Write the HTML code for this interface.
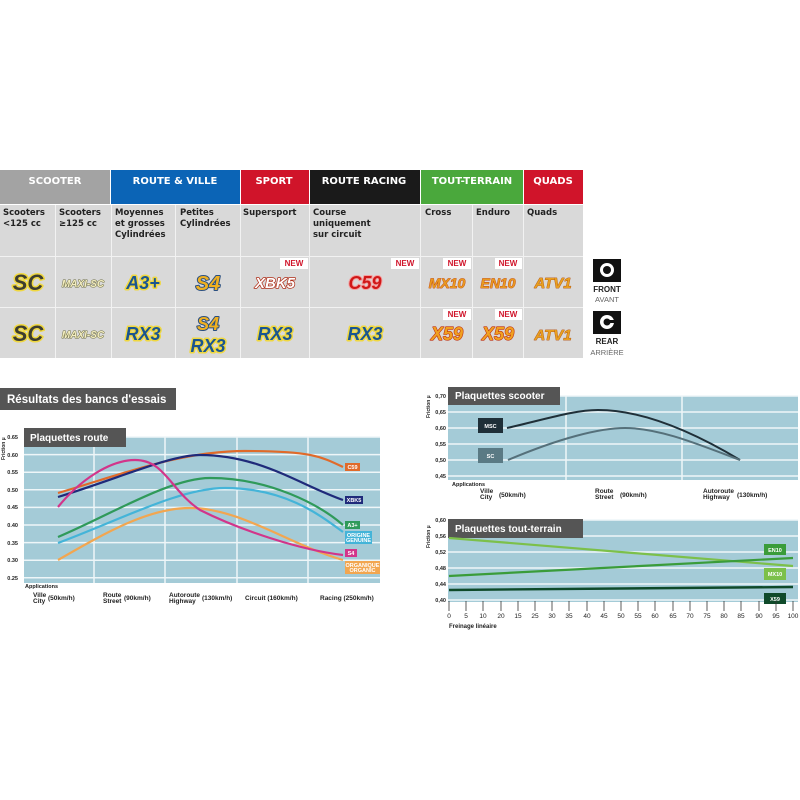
<!DOCTYPE html>
<html><head><meta charset="utf-8"><style>
html,body{margin:0;padding:0;background:#fff;width:800px;height:800px;overflow:hidden}
svg{display:block}
text{font-family:"Liberation Sans",sans-serif}
.h{font-family:"DejaVu Sans",sans-serif;font-weight:bold;font-size:10px;fill:#fff;text-anchor:middle}
.s{font-family:"DejaVu Sans",sans-serif;font-weight:bold;font-size:8.5px;fill:#222}
.lg{font-weight:900;font-style:italic;paint-order:stroke;stroke-linejoin:round;text-anchor:middle}
.new{font-size:8px;fill:#d0142a;font-weight:bold;text-anchor:middle}
.yl{font-size:5.5px;font-weight:bold;fill:#222;text-anchor:end}
.xl{font-size:6.5px;font-weight:bold;fill:#222}
.lb{font-size:5.5px;font-weight:bold;fill:#fff;text-anchor:middle}
</style></head><body>
<svg width="800" height="800" viewBox="0 0 800 800" xmlns="http://www.w3.org/2000/svg">
<rect x="0" y="170" width="110" height="34" fill="#a3a3a3"/>
<rect x="111" y="170" width="129" height="34" fill="#0b64b6"/>
<rect x="241" y="170" width="68" height="34" fill="#d0142a"/>
<rect x="310" y="170" width="110" height="34" fill="#1a1a1a"/>
<rect x="421" y="170" width="102" height="34" fill="#4aa83c"/>
<rect x="524" y="170" width="59" height="34" fill="#d0142a"/>
<text class="h" x="55" y="184">SCOOTER</text>
<text class="h" x="175" y="184">ROUTE &amp; VILLE</text>
<text class="h" x="274" y="184">SPORT</text>
<text class="h" x="364" y="184">ROUTE RACING</text>
<text class="h" x="472" y="184">TOUT-TERRAIN</text>
<text class="h" x="553" y="184">QUADS</text>
<rect x="0" y="205" width="583" height="153" fill="#d9d9d9"/>
<g stroke="#f2f2f2" stroke-width="1">
<line x1="55.5" y1="205" x2="55.5" y2="358"/><line x1="111.5" y1="205" x2="111.5" y2="358"/>
<line x1="175.5" y1="205" x2="175.5" y2="358"/><line x1="240.5" y1="205" x2="240.5" y2="358"/>
<line x1="309.5" y1="205" x2="309.5" y2="358"/><line x1="420.5" y1="205" x2="420.5" y2="358"/>
<line x1="472.5" y1="205" x2="472.5" y2="358"/><line x1="523.5" y1="205" x2="523.5" y2="358"/>
<line x1="0" y1="256.5" x2="583" y2="256.5"/><line x1="0" y1="307.5" x2="583" y2="307.5"/>
</g>
<text class="s" x="3" y="215">Scooters</text><text class="s" x="3" y="226">&lt;125 cc</text>
<text class="s" x="59" y="215">Scooters</text><text class="s" x="59" y="226">≥125 cc</text>
<text class="s" x="115" y="215">Moyennes</text><text class="s" x="115" y="226">et grosses</text><text class="s" x="115" y="237">Cylindrées</text>
<text class="s" x="180" y="215">Petites</text><text class="s" x="180" y="226">Cylindrées</text>
<text class="s" x="243" y="215">Supersport</text>
<text class="s" x="313" y="215">Course</text><text class="s" x="313" y="226">uniquement</text><text class="s" x="313" y="237">sur circuit</text>
<text class="s" x="425" y="215">Cross</text><text class="s" x="476" y="215">Enduro</text><text class="s" x="527" y="215">Quads</text>
<g fill="#fff"><rect x="280" y="258" width="28" height="11"/><rect x="391" y="258" width="28" height="11"/><rect x="443" y="258" width="28" height="11"/><rect x="495" y="258" width="27" height="11"/><rect x="443" y="309" width="28" height="11"/><rect x="495" y="309" width="27" height="11"/></g>
<text class="new" x="294" y="266">NEW</text><text class="new" x="405" y="266">NEW</text><text class="new" x="457" y="266">NEW</text><text class="new" x="508" y="266">NEW</text><text class="new" x="457" y="317">NEW</text><text class="new" x="508" y="317">NEW</text>
<g class="lg">
<text x="28" y="290" font-size="22" fill="#3d3d30" stroke="#f0d840" stroke-width="3">SC</text>
<text x="28" y="341" font-size="22" fill="#3d3d30" stroke="#f0d840" stroke-width="3">SC</text>
<text x="83" y="287" font-size="10" fill="#f4eec0" stroke="#6a6a40" stroke-width="1">MAXI-SC</text>
<text x="83" y="338" font-size="10" fill="#f4eec0" stroke="#6a6a40" stroke-width="1">MAXI-SC</text>
<text x="143" y="289" font-size="18" fill="#1a5590" stroke="#f0d840" stroke-width="3">A3+</text>
<text x="143" y="340" font-size="18" fill="#1a5590" stroke="#f0d840" stroke-width="3">RX3</text>
<text x="208" y="290" font-size="20" fill="#f0b020" stroke="#2a4f80" stroke-width="2">S4</text>
<text x="208" y="330" font-size="18" fill="#f0b020" stroke="#2a4f80" stroke-width="2">S4</text>
<text x="208" y="352" font-size="18" fill="#1a5590" stroke="#f0d840" stroke-width="3">RX3</text>
<text x="275" y="288" font-size="15" fill="#fff" stroke="#b0301a" stroke-width="1.5">XBK5</text>
<text x="275" y="340" font-size="18" fill="#1a5590" stroke="#f0d840" stroke-width="3">RX3</text>
<text x="365" y="289" font-size="18" fill="#d01818" stroke="#f4a0a0" stroke-width="2">C59</text>
<text x="365" y="340" font-size="18" fill="#1a5590" stroke="#f0d840" stroke-width="3">RX3</text>
<text x="447" y="288" font-size="14" fill="#e89a20" stroke="#c04010" stroke-width="0.8">MX10</text>
<text x="498" y="288" font-size="14" fill="#e89a20" stroke="#c04010" stroke-width="0.8">EN10</text>
<text x="447" y="340" font-size="18" fill="#f0a020" stroke="#c03010" stroke-width="1.2">X59</text>
<text x="498" y="340" font-size="18" fill="#f0a020" stroke="#c03010" stroke-width="1.2">X59</text>
<text x="553" y="288" font-size="15" fill="#e8a020" stroke="#b05010" stroke-width="0.8">ATV1</text>
<text x="553" y="340" font-size="15" fill="#e8a020" stroke="#b05010" stroke-width="0.8">ATV1</text>
</g>
<rect x="593" y="259" width="28" height="23" fill="#111"/><circle cx="607" cy="270" r="7" fill="#fff"/><circle cx="607" cy="270" r="4" fill="#111"/>
<text x="607" y="292" font-size="8" font-weight="bold" text-anchor="middle" fill="#222">FRONT</text>
<text x="607" y="302" font-size="7.5" text-anchor="middle" fill="#666">AVANT</text>
<rect x="593" y="311" width="28" height="23" fill="#111"/><circle cx="607" cy="322" r="7" fill="#fff"/><circle cx="607" cy="322" r="3.5" fill="#111"/><rect x="607" y="320" width="9" height="3" fill="#111"/>
<text x="607" y="344" font-size="8" font-weight="bold" text-anchor="middle" fill="#222">REAR</text>
<text x="607" y="355" font-size="7.5" text-anchor="middle" fill="#666">ARRIÈRE</text>

<rect x="0" y="388" width="176" height="22" fill="#555"/>
<text x="7" y="403" font-size="11.5" font-weight="bold" fill="#fff">Résultats des bancs d'essais</text>
<rect x="24" y="437" width="356" height="146" fill="#a4cbd7"/>
<g stroke="#eef6f8" stroke-width="1.5">
<line x1="24" y1="437" x2="380" y2="437"/><line x1="24" y1="454.6" x2="380" y2="454.6"/><line x1="24" y1="472.2" x2="380" y2="472.2"/><line x1="24" y1="489.8" x2="380" y2="489.8"/><line x1="24" y1="507.4" x2="380" y2="507.4"/><line x1="24" y1="525" x2="380" y2="525"/><line x1="24" y1="542.6" x2="380" y2="542.6"/><line x1="24" y1="560.2" x2="380" y2="560.2"/><line x1="24" y1="577.8" x2="380" y2="577.8"/>
<line x1="94" y1="437" x2="94" y2="583"/><line x1="165" y1="437" x2="165" y2="583"/><line x1="237" y1="437" x2="237" y2="583"/><line x1="308" y1="437" x2="308" y2="583"/>
</g>
<rect x="24" y="428" width="102" height="19" fill="#555"/>
<text x="30" y="441" font-size="10" font-weight="bold" fill="#fff">Plaquettes route</text>
<text transform="translate(5,460) rotate(-90)" font-size="5" font-weight="bold" fill="#222">Friction µ</text>
<g class="yl"><text x="18" y="439">0.65</text><text x="18" y="457">0.60</text><text x="18" y="474">0.55</text><text x="18" y="492">0.50</text><text x="18" y="509">0.45</text><text x="18" y="527">0.40</text><text x="18" y="545">0.35</text><text x="18" y="562">0.30</text><text x="18" y="580">0.25</text></g>
<g fill="none" stroke-width="2.2">
<path d="M58 493 C120 475,180 451,245 451 S320 456,343 467" stroke="#e06a2a"/>
<path d="M58 497 C120 478,170 455,200 455 C260 455,300 485,343 500" stroke="#1f2a7a"/>
<path d="M58 543 C120 520,180 488,225 488 C285 488,320 515,343 532" stroke="#44b4d8"/>
<path d="M58 537 C110 515,170 478,210 478 C270 478,320 505,343 525" stroke="#2f9a5a"/>
<path d="M58 560 C110 530,150 508,190 508 C240 508,290 545,343 560" stroke="#f2a650"/>
<path d="M58 507 C80 480,110 460,135 460 C165 460,170 490,200 510 C240 530,300 550,343 555" stroke="#d2358a"/>
</g>
<rect x="345" y="463" width="15" height="8" fill="#e06a2a"/><text class="lb" x="352.5" y="469">C59</text>
<rect x="345" y="496" width="18" height="8" fill="#1f2a7a"/><text class="lb" x="354" y="502">XBK5</text>
<rect x="345" y="521" width="15" height="8" fill="#2f9a5a"/><text class="lb" x="352.5" y="527">A3+</text>
<rect x="345" y="531" width="27" height="13" fill="#44b4d8"/><text class="lb" x="358.5" y="537">ORIGINE</text><text class="lb" x="358.5" y="542">GENUINE</text>
<rect x="345" y="549" width="12" height="8" fill="#d2358a"/><text class="lb" x="351" y="555">S4</text>
<rect x="345" y="561" width="35" height="13" fill="#f2a650"/><text class="lb" x="362.5" y="567">ORGANIQUE</text><text class="lb" x="362.5" y="572">ORGANIC</text>
<text x="25" y="588" font-size="5.5" font-weight="bold" fill="#222">Applications</text>
<g class="xl">
<text x="33" y="597">Ville</text><text x="33" y="603">City</text><text x="48" y="600">(50km/h)</text>
<text x="103" y="597">Route</text><text x="103" y="603">Street</text><text x="124" y="600">(90km/h)</text>
<text x="169" y="597">Autoroute</text><text x="169" y="603">Highway</text><text x="202" y="600">(130km/h)</text>
<text x="245" y="600">Circuit (160km/h)</text>
<text x="320" y="600">Racing (250km/h)</text>
</g>

<rect x="448" y="396" width="350" height="84" fill="#a4cbd7"/>
<g stroke="#eef6f8" stroke-width="1.5">
<line x1="448" y1="396" x2="798" y2="396"/><line x1="448" y1="412" x2="798" y2="412"/><line x1="448" y1="428" x2="798" y2="428"/><line x1="448" y1="444" x2="798" y2="444"/><line x1="448" y1="460" x2="798" y2="460"/><line x1="448" y1="476" x2="798" y2="476"/>
<line x1="566" y1="396" x2="566" y2="480"/><line x1="682" y1="396" x2="682" y2="480"/>
</g>
<rect x="448" y="387" width="112" height="18" fill="#555"/>
<text x="455" y="399" font-size="10" font-weight="bold" fill="#fff">Plaquettes scooter</text>
<text transform="translate(430,418) rotate(-90)" font-size="5" font-weight="bold" fill="#222">Friction µ</text>
<g class="yl"><text x="446" y="398">0,70</text><text x="446" y="414">0,65</text><text x="446" y="430">0,60</text><text x="446" y="446">0,55</text><text x="446" y="462">0,50</text><text x="446" y="478">0,45</text></g>
<path d="M507 428 C550 418,575 410,598 410 C640 410,690 430,740 460" fill="none" stroke="#1f2f38" stroke-width="2"/>
<path d="M508 460 C560 438,600 428,625 428 C660 428,700 445,740 460" fill="none" stroke="#55707a" stroke-width="2"/>
<rect x="478" y="418" width="25" height="15" fill="#1f2f38"/><text class="lb" x="490.5" y="428" font-size="6.5">MSC</text>
<rect x="478" y="448" width="25" height="15" fill="#5a7a84"/><text class="lb" x="490.5" y="458" font-size="6.5">SC</text>
<text x="452" y="486" font-size="5.5" font-weight="bold" fill="#222">Applications</text>
<g class="xl">
<text x="480" y="493">Ville</text><text x="480" y="499">City</text><text x="499" y="497">(50km/h)</text>
<text x="595" y="493">Route</text><text x="595" y="499">Street</text><text x="620" y="497">(90km/h)</text>
<text x="703" y="493">Autoroute</text><text x="703" y="499">Highway</text><text x="737" y="497">(130km/h)</text>
</g>

<rect x="448" y="520" width="350" height="82" fill="#a4cbd7"/>
<g stroke="#eef6f8" stroke-width="1.5">
<line x1="448" y1="520" x2="798" y2="520"/><line x1="448" y1="536" x2="798" y2="536"/><line x1="448" y1="552" x2="798" y2="552"/><line x1="448" y1="568" x2="798" y2="568"/><line x1="448" y1="584" x2="798" y2="584"/><line x1="448" y1="600" x2="798" y2="600"/>
</g>
<rect x="448" y="519" width="135" height="19" fill="#555"/>
<text x="455" y="532" font-size="10" font-weight="bold" fill="#fff">Plaquettes tout-terrain</text>
<text transform="translate(430,548) rotate(-90)" font-size="5" font-weight="bold" fill="#222">Friction µ</text>
<g class="yl"><text x="446" y="522">0,60</text><text x="446" y="538">0,56</text><text x="446" y="554">0,52</text><text x="446" y="570">0,48</text><text x="446" y="586">0,44</text><text x="446" y="602">0,40</text></g>
<path d="M449 538 L793 566" stroke="#7cc04a" stroke-width="2.2" fill="none"/>
<path d="M449 576 L793 558" stroke="#3a9c3a" stroke-width="2.2" fill="none"/>
<path d="M449 590 L793 587" stroke="#0f4a2a" stroke-width="2.4" fill="none"/>
<rect x="764" y="544" width="22" height="11" fill="#3a9c3a"/><text class="lb" x="775" y="552" font-size="6.5">EN10</text>
<rect x="764" y="568" width="22" height="12" fill="#7cc04a"/><text class="lb" x="775" y="576" font-size="6.5">MX10</text>
<rect x="764" y="593" width="22" height="11" fill="#0f4a2a"/><text class="lb" x="775" y="601" font-size="6.5">X59</text>
<g stroke="#333" stroke-width="0.8">
<line x1="449" y1="601" x2="449" y2="611"/><line x1="466" y1="601" x2="466" y2="611"/><line x1="483" y1="601" x2="483" y2="611"/><line x1="501" y1="601" x2="501" y2="611"/><line x1="518" y1="601" x2="518" y2="611"/><line x1="535" y1="601" x2="535" y2="611"/><line x1="552" y1="601" x2="552" y2="611"/><line x1="569" y1="601" x2="569" y2="611"/><line x1="587" y1="601" x2="587" y2="611"/><line x1="604" y1="601" x2="604" y2="611"/><line x1="621" y1="601" x2="621" y2="611"/><line x1="638" y1="601" x2="638" y2="611"/><line x1="655" y1="601" x2="655" y2="611"/><line x1="673" y1="601" x2="673" y2="611"/><line x1="690" y1="601" x2="690" y2="611"/><line x1="707" y1="601" x2="707" y2="611"/><line x1="724" y1="601" x2="724" y2="611"/><line x1="741" y1="601" x2="741" y2="611"/><line x1="759" y1="601" x2="759" y2="611"/><line x1="776" y1="601" x2="776" y2="611"/><line x1="793" y1="601" x2="793" y2="611"/>
</g>
<g font-size="6.5" fill="#222" text-anchor="middle">
<text x="449" y="618">0</text><text x="466" y="618">5</text><text x="483" y="618">10</text><text x="501" y="618">20</text><text x="518" y="618">15</text><text x="535" y="618">25</text><text x="552" y="618">30</text><text x="569" y="618">35</text><text x="587" y="618">40</text><text x="604" y="618">45</text><text x="621" y="618">50</text><text x="638" y="618">55</text><text x="655" y="618">60</text><text x="673" y="618">65</text><text x="690" y="618">70</text><text x="707" y="618">75</text><text x="724" y="618">80</text><text x="741" y="618">85</text><text x="759" y="618">90</text><text x="776" y="618">95</text><text x="793" y="618">100</text>
</g>
<text x="449" y="628" font-size="6" font-weight="bold" fill="#222">Freinage linéaire</text>
</svg>
</body></html>
